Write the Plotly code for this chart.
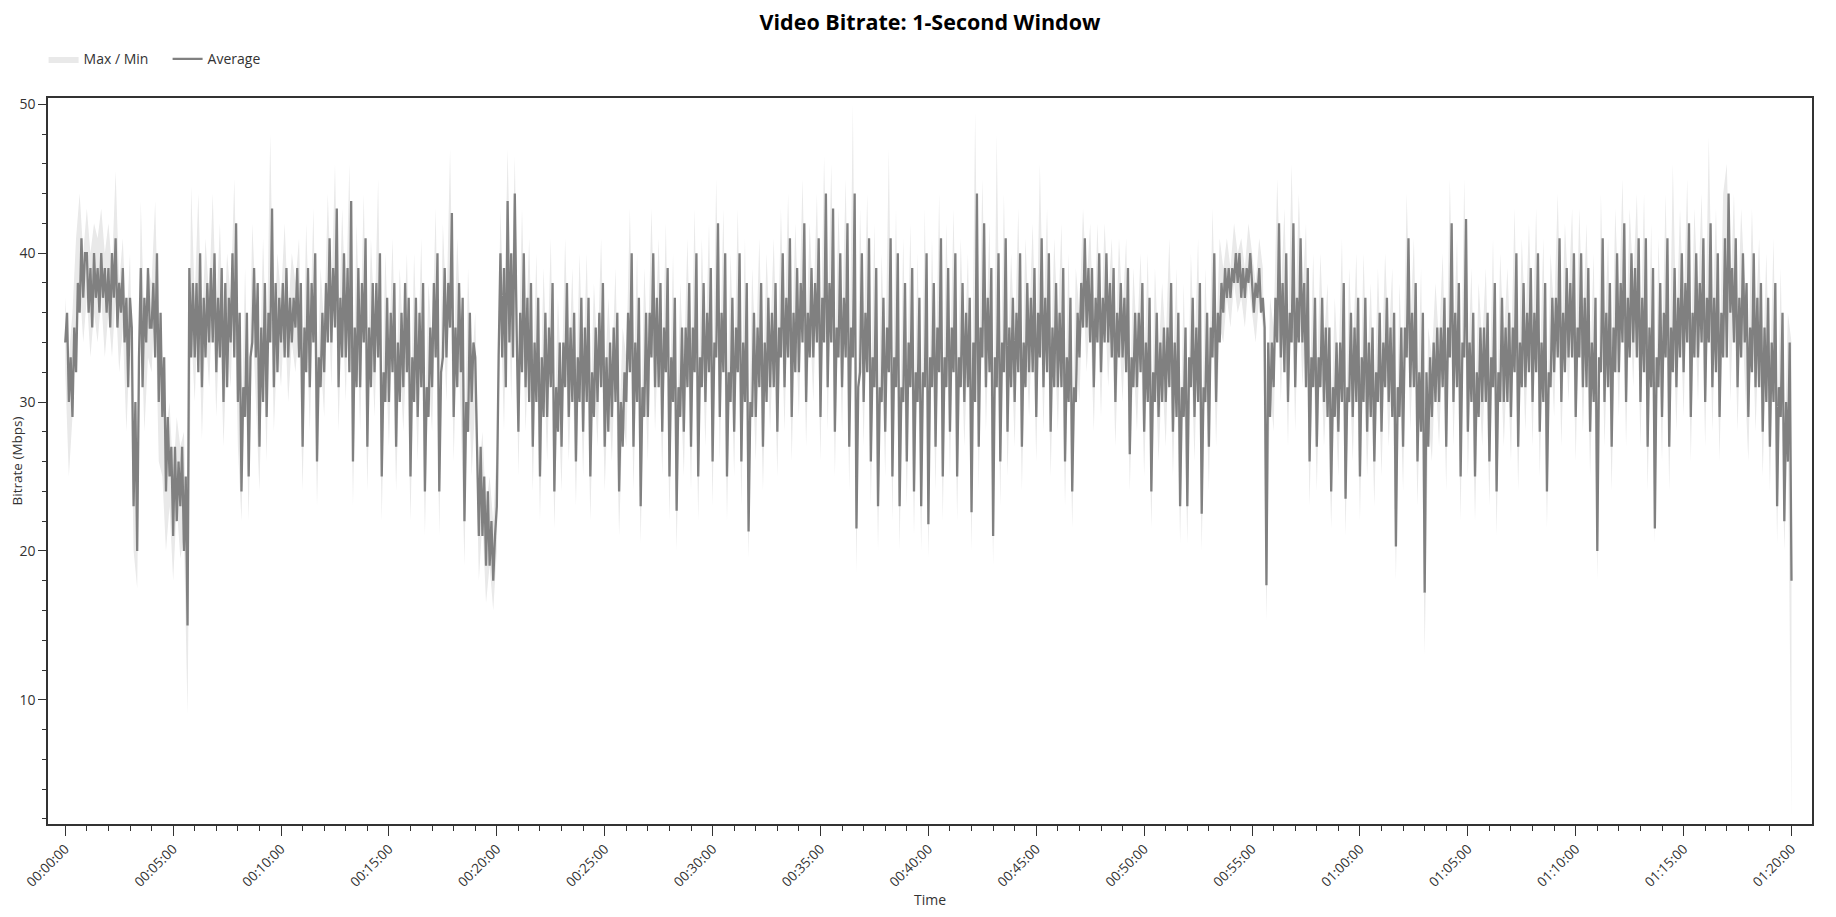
import plotly.graph_objects as go

AVG_STEP = 5    # seconds between average samples
BAND_STEP = 10  # seconds between max/min samples

# 1-second-window average bitrate (Mbps), one row per minute
avg_mbps = [
    34, 36, 30, 33, 29, 35, 32, 38, 36, 41, 37, 40,  # 00:00
    40, 36, 39, 35, 40, 37, 39, 36, 40, 37, 39, 36,
    39, 35, 40, 37, 41, 35, 38, 36, 39, 34, 37, 31,
    37, 35, 23, 30, 20, 33, 39, 31, 37, 34, 39, 35,
    35, 38, 33, 40, 30, 36, 29, 33, 24, 29, 25, 27,
    21, 27, 22, 26, 23, 27, 20, 25, 15, 39, 33, 38,  # 00:05
    33, 38, 32, 40, 31, 37, 33, 38, 34, 39, 34, 40,
    32, 37, 33, 39, 30, 38, 31, 37, 34, 40, 33, 42,
    30, 36, 24, 31, 29, 36, 25, 33, 34, 39, 33, 38,
    27, 35, 30, 38, 29, 36, 34, 43, 31, 38, 32, 37,
    34, 38, 33, 39, 33, 37, 34, 37, 35, 39, 33, 38,  # 00:10
    27, 35, 32, 39, 31, 38, 34, 40, 26, 33, 31, 36,
    32, 38, 34, 41, 34, 39, 35, 43, 31, 37, 33, 40,
    33, 39, 32, 43.5, 26, 35, 31, 39, 31, 38, 34, 41,
    27, 35, 31, 38, 32, 38, 33, 40, 25, 32, 30, 37,
    30, 36, 32, 38, 27, 34, 30, 36, 31, 38, 32, 37,  # 00:15
    25, 33, 30, 37, 29, 36, 31, 38, 24, 31, 29, 35,
    31, 38, 33, 40, 24, 32, 33, 39, 33, 38, 35, 42.7,
    29, 35, 31, 38, 32, 37, 22, 30, 28, 36, 30, 34,
    33, 26, 21, 27, 21, 25, 19, 24, 19, 22, 18, 21,
    23, 33, 40, 33, 39, 31, 43.5, 34, 40, 33, 44, 35,  # 00:20
    28, 36, 32, 40, 31, 37, 30, 38, 27, 34, 30, 37,
    25, 33, 29, 36, 29, 35, 31, 38, 24, 31, 28, 34,
    27, 34, 31, 38, 29, 35, 30, 36, 26, 33, 30, 37,
    28, 35, 30, 37, 25, 32, 29, 35, 30, 36, 31, 38,
    27, 33, 28, 34, 29, 35, 30, 36, 24, 30, 27, 32,  # 00:25
    30, 36, 32, 40, 27, 34, 30, 37, 23, 31, 29, 36,
    29, 36, 33, 40, 31, 37, 31, 38, 28, 35, 32, 39,
    25, 33, 30, 37, 22.7, 31, 29, 35, 28, 35, 31, 38,
    27, 35, 32, 40, 25, 33, 31, 38, 30, 36, 32, 39,
    26, 34, 33, 42, 29, 36, 32, 40, 25, 32, 30, 37,  # 00:30
    28, 35, 32, 40, 26, 34, 30, 38, 21.3, 30, 29, 36,
    29, 35, 31, 38, 27, 34, 30, 37, 31, 36, 31, 38,
    28, 35, 33, 40, 31, 37, 33, 41, 29, 36, 32, 39,
    32, 38, 34, 42, 30, 36, 33, 39, 33, 38, 34, 41,
    29, 37, 34, 44, 31, 38, 34, 43, 28, 35, 33, 40,  # 00:35
    31, 37, 33, 42, 27, 35, 33, 44, 21.5, 31, 32, 40,
    30, 36, 32, 41, 26, 33, 31, 39, 23, 31, 30, 37,
    28, 35, 32, 41, 25, 33, 31, 40, 23, 31, 30, 38,
    26, 34, 31, 39, 24, 32, 30, 37, 23, 32, 31, 40,
    21.8, 33, 31, 38, 27, 35, 32, 41, 25, 33, 31, 39,  # 00:40
    28, 35, 32, 40, 25, 33, 31, 38, 30, 36, 31, 37,
    22.6, 34, 30, 44, 27, 35, 33, 42, 31, 37, 32, 39,
    21, 33, 31, 40, 26, 34, 32, 41, 28, 35, 31, 37,
    30, 36, 32, 40, 27, 34, 31, 38, 32, 37, 32, 39,
    29, 36, 33, 41, 31, 37, 32, 40, 28, 35, 31, 38,  # 00:45
    31, 36, 31, 39, 26, 33, 30, 37, 24, 31, 30, 36,
    33, 38, 35, 41, 35, 39, 34, 39, 31, 37, 34, 40,
    32, 37, 34, 40, 34, 38, 33, 39, 30, 36, 33, 38,
    33, 37, 32, 39, 26.5, 33, 31, 36, 31, 36, 32, 38,
    28, 34, 30, 37, 24, 32, 30, 36, 29, 34, 30, 35,  # 00:50
    30, 35, 31, 38, 28, 34, 29, 36, 23, 31, 29, 35,
    23, 33, 31, 37, 29, 35, 30, 38, 22.5, 31, 30, 36,
    27, 35, 33, 40, 30, 36, 34, 38, 36, 39, 37, 39,
    37, 39, 38, 40, 38, 40, 37, 39, 37, 39, 38, 40,
    38, 36, 38, 37, 39, 36, 37, 35, 17.7, 34, 29, 34,  # 00:55
    31, 37, 34, 42, 33, 38, 32, 40, 30, 36, 34, 42,
    31, 37, 34, 41, 34, 38, 31, 39, 26, 33, 31, 37,
    27, 33, 31, 37, 30, 35, 29, 35, 24, 31, 29, 34,
    28, 34, 30, 38, 23.5, 31, 30, 36, 29, 35, 30, 37,
    25, 33, 30, 37, 28, 34, 29, 35, 26, 32, 30, 36,  # 01:00
    28, 34, 31, 37, 30, 35, 29, 36, 20.3, 31, 29, 35,
    27, 35, 33, 41, 31, 36, 31, 38, 26, 32, 28, 36,
    17.2, 32, 27, 33, 29, 34, 30, 35, 30, 35, 31, 37,
    27, 35, 33, 42, 30, 36, 31, 38, 25, 34, 33, 42.3,
    28, 34, 30, 36, 25, 32, 29, 35, 30, 35, 30, 36,  # 01:05
    26, 33, 31, 38, 24, 32, 30, 37, 30, 35, 30, 36,
    29, 35, 32, 40, 27, 34, 31, 38, 31, 36, 32, 39,
    30, 36, 32, 40, 28, 34, 30, 38, 24, 32, 31, 37,
    32, 37, 33, 41, 30, 36, 32, 39, 33, 38, 33, 40,
    29, 35, 33, 40, 31, 37, 31, 39, 28, 34, 30, 37,  # 01:10
    20, 33, 32, 41, 30, 36, 31, 38, 27, 35, 32, 40,
    32, 38, 34, 42, 30, 37, 33, 40, 34, 39, 33, 41,
    30, 37, 32, 41, 27, 35, 31, 39, 21.5, 33, 31, 38,
    29, 36, 33, 41, 27, 35, 32, 39, 31, 37, 33, 40,
    32, 38, 34, 42, 29, 36, 33, 40, 33, 38, 34, 41,  # 01:15
    30, 37, 34, 42, 31, 37, 32, 40, 29, 36, 33, 41,
    33, 44, 36, 39, 34, 41, 31, 37, 33, 40, 34, 38,
    29, 35, 32, 40, 31, 37, 31, 38, 28, 35, 30, 37,
    27, 34, 30, 38, 23, 31, 29, 36, 22, 30, 26, 34,
    18,                                              # 01:20
]

# 1-second-window max / min (Mbps), one row per minute
max_mbps = [
    37, 33, 36, 41, 44, 40,  # 00:00
    43, 40, 42, 41, 43, 40,
    42, 39, 45.5, 38, 41, 35,
    40, 27, 24, 43.5, 35, 39,
    38, 43.5, 34, 33, 28, 30,
    25, 29, 27, 28, 19, 44.5,  # 00:05
    37, 44, 35, 41, 37, 44,
    36, 42, 34, 40, 37, 45,
    34, 28, 39, 29, 42, 36,
    31, 41, 33, 48, 34, 40,
    37, 42, 36, 40, 38, 41,  # 00:10
    31, 42, 34, 43, 30, 39,
    35, 44, 37, 46, 34, 43,
    36, 46, 30, 42, 34, 44,
    31, 41, 35, 45, 29, 40,
    33, 41, 31, 39, 34, 40,  # 00:15
    29, 40, 32, 41, 28, 38,
    34, 43, 28, 42, 36, 47,
    33, 41, 35, 26, 39, 32,
    36, 25, 28, 23, 25, 22,
    27, 43, 35, 47, 36, 46.5,  # 00:20
    32, 43, 34, 41, 31, 40,
    29, 39, 32, 41, 28, 37,
    31, 41, 32, 39, 30, 40,
    32, 40, 29, 38, 33, 41,
    31, 37, 32, 39, 28, 35,  # 00:25
    33, 43, 31, 40, 27, 39,
    33, 43, 34, 41, 32, 42,
    29, 40, 27, 38, 32, 41,
    31, 43, 29, 41, 33, 42,
    30, 45, 32, 43, 29, 40,  # 00:30
    32, 43, 30, 41, 25, 39,
    33, 41, 31, 40, 34, 41,
    32, 43, 34, 44, 33, 42,
    35, 45, 34, 42, 36, 44,
    33, 46.5, 35, 46, 32, 43,  # 00:35
    35, 45, 31, 50, 25, 43,
    34, 44, 30, 42, 27, 40,
    32, 47, 29, 43, 27, 41,
    30, 42, 28, 40, 27, 43,
    26, 41, 31, 44, 29, 42,  # 00:40
    32, 43, 29, 41, 33, 40,
    27, 49.5, 31, 45, 34, 42,
    25, 48, 30, 44, 32, 40,
    34, 43, 31, 41, 35, 42,
    33, 46, 35, 43, 32, 41,  # 00:45
    35, 42, 30, 40, 28, 39,
    36, 43, 38, 42, 34, 42,
    35, 42, 37, 41, 33, 41,
    36, 41, 30, 39, 34, 40,
    32, 40, 28, 39, 33, 38,  # 00:50
    34, 41, 32, 39, 27, 38,
    27, 40, 33, 41, 27, 39,
    31, 43, 34, 41, 39, 41,
    39, 42, 40, 41, 39, 42,
    40, 38, 41, 39, 24, 37,  # 00:55
    35, 45, 37, 43, 34, 46,
    35, 44, 37, 42, 30, 40,
    31, 40, 34, 38, 28, 37,
    32, 41, 27, 39, 33, 40,
    29, 40, 32, 38, 30, 39,  # 01:00
    32, 40, 34, 39, 25, 38,
    31, 44, 35, 41, 30, 39,
    22, 35, 33, 38, 34, 40,
    31, 45, 34, 41, 29, 45,
    32, 39, 29, 38, 34, 39,  # 01:05
    30, 41, 28, 40, 34, 39,
    33, 43, 31, 41, 35, 42,
    34, 43, 32, 41, 28, 40,
    36, 44, 34, 42, 37, 43,
    33, 43, 35, 42, 32, 40,  # 01:10
    24, 44, 34, 41, 31, 43,
    36, 45, 34, 43, 38, 44,
    34, 44, 31, 42, 26, 41,
    33, 44, 31, 46, 35, 43,
    36, 45, 33, 43, 37, 44,  # 01:15
    34, 47.8, 35, 43, 33, 44,
    46, 37, 44, 35, 43, 38,
    33, 43, 35, 41, 32, 40,
    31, 41, 27, 39, 26, 36,
    34,                      # 01:20
]

min_mbps = [
    32, 25, 29, 35, 38, 34,  # 00:00
    37, 33, 36, 34, 37, 33,
    36, 33, 37, 32, 35, 28,
    34, 20, 17.5, 36, 28, 33,
    32, 37, 26, 25, 20, 23,
    18, 23, 19.5, 21, 9, 35,  # 00:05
    30, 37, 27.5, 35, 31, 37,
    29, 36, 27, 34, 31, 39,
    27, 22, 33, 22, 36, 30,
    24, 35, 26, 40, 28, 34,
    31, 36, 30, 34, 32, 35,  # 00:10
    24, 36, 28, 37, 23, 33,
    29, 38, 31, 40, 28, 37,
    30, 40, 23, 36, 28, 38,
    24, 35, 29, 37, 22, 34,
    27, 35, 24, 33, 28, 34,  # 00:15
    22, 34, 26, 35, 21, 32,
    28, 37, 21, 36, 30, 39,
    26, 35, 29, 19, 33, 25,
    30, 18, 22, 16.5, 19, 16,
    20, 37, 28, 40, 30, 41,  # 00:20
    25, 37, 28, 35, 24, 34,
    22, 33, 26, 35, 21.5, 31,
    24, 35, 26, 33, 23, 34,
    25, 34, 22, 32, 27, 35,
    24, 31, 26, 33, 21, 29,  # 00:25
    27, 37, 24, 34, 20.5, 33,
    26, 37, 28, 35, 25, 36,
    22, 34, 20, 32, 25, 35,
    24, 37, 22, 35, 27, 36,
    23, 39, 26, 37, 22, 34,  # 00:30
    25, 37, 23, 35, 19.5, 33,
    26, 35, 24, 34, 28, 35,
    25, 37, 28, 38, 26, 36,
    29, 39, 27, 36, 30, 38,
    26, 41, 28, 40, 25, 37,  # 00:35
    28, 39, 24, 41, 18.5, 37,
    27, 38, 23, 36, 20, 34,
    25, 38, 22, 37, 20, 35,
    23, 36, 21, 34, 20, 37,
    19.5, 35, 24, 38, 22, 36,  # 00:40
    25, 37, 22, 35, 27, 34,
    20, 41, 24, 39, 28, 36,
    19, 37, 23, 38, 25, 34,
    27, 37, 24, 35, 29, 36,
    26, 38, 28, 37, 25, 35,  # 00:45
    28, 36, 23, 34, 21.5, 33,
    30, 38, 32, 36, 28, 37,
    29, 37, 31, 36, 27, 35,
    30, 36, 24, 33, 28, 35,
    25, 34, 21.5, 33, 26, 32,  # 00:50
    27, 35, 25, 33, 20.5, 32,
    20.5, 34, 26, 35, 20, 33,
    24, 37, 27, 35, 34, 37,
    35, 38, 36, 37, 35, 38,
    36, 34, 37, 35, 15.3, 31,  # 00:55
    28, 39, 30, 37, 27, 39,
    28, 38, 31, 36, 23, 34,
    24, 34, 27, 32, 21.5, 31,
    25, 35, 21, 33, 26, 34,
    22, 34, 25, 32, 23, 33,  # 01:00
    25, 34, 27, 33, 18, 32,
    24, 38, 28, 35, 23, 33,
    13, 29, 26, 32, 27, 34,
    24, 39, 27, 35, 22, 39,
    25, 33, 22, 32, 27, 33,  # 01:05
    23, 35, 21, 34, 27, 33,
    26, 37, 24, 35, 28, 36,
    27, 37, 25, 35, 21.5, 34,
    29, 38, 27, 36, 30, 37,
    26, 37, 28, 36, 25, 34,  # 01:10
    18, 38, 27, 35, 24, 37,
    29, 39, 27, 37, 31, 38,
    27, 38, 24, 36, 20.5, 35,
    26, 38, 24, 36, 28, 37,
    29, 39, 26, 37, 30, 38,  # 01:15
    27, 39, 28, 37, 26, 38,
    41, 30, 38, 28, 37, 31,
    26, 37, 28, 35, 25, 34,
    24, 35, 20.5, 33, 20, 28,
    2,                       # 01:20
]

tick_seconds = [0, 300, 600, 900, 1200, 1500, 1800, 2100, 2400,
                2700, 3000, 3300, 3600, 3900, 4200, 4500, 4800]
tick_labels = ["00:00:00", "00:05:00", "00:10:00", "00:15:00", "00:20:00",
               "00:25:00", "00:30:00", "00:35:00", "00:40:00", "00:45:00",
               "00:50:00", "00:55:00", "01:00:00", "01:05:00", "01:10:00",
               "01:15:00", "01:20:00"]

avg_seconds = [i * AVG_STEP for i in range(len(avg_mbps))]
band_seconds = [i * BAND_STEP for i in range(len(max_mbps))]

BAND = "#e9e9e9"
AVG = "#808080"
AXIS = "#333333"

fig = go.Figure()

# ── Max / Min band ───────────────────────
fig.add_trace(go.Scatter(
    x=band_seconds, y=max_mbps, mode="lines",
    line=dict(width=0, color=BAND), showlegend=False, hoverinfo="skip",
))
fig.add_trace(go.Scatter(
    x=band_seconds, y=min_mbps, mode="lines", name="Max / Min",
    line=dict(width=0, color=BAND), fill="tonexty", fillcolor=BAND,
    legendrank=1,
))

# ── Average line ─────────────────────────
fig.add_trace(go.Scatter(
    x=avg_seconds, y=avg_mbps, mode="lines", name="Average",
    line=dict(width=2.3, color=AVG), legendrank=2,
))

# the page body adds an 8px margin, so margins here are relative to that
fig.update_layout(
    paper_bgcolor="white", plot_bgcolor="white",
    font=dict(family="Open Sans, sans-serif", size=13, color=AXIS),
    title=dict(
        text="<b>Video Bitrate: 1-Second Window</b>",
        x=0.5, xref="paper", xanchor="center",
        y=0.984, yanchor="middle",
        font=dict(size=21.5, color="#000"),
    ),
    margin=dict(l=40, r=16, t=90, b=85),
    legend=dict(
        orientation="h", x=-0.0025, xanchor="left", y=1.0533, yanchor="middle",
        itemwidth=30, entrywidth=79, font=dict(size=14, color=AXIS),
        traceorder="normal",
    ),
    showlegend=True,
)
fig.update_xaxes(
    range=[-48, 4857], showgrid=False, zeroline=False, automargin=False,
    showline=True, linecolor=AXIS, linewidth=1.5, mirror=True,
    tickmode="array", tickvals=tick_seconds, ticktext=tick_labels,
    tickangle=-45, ticks="outside", ticklen=10, tickcolor=AXIS,
    minor=dict(dtick=60, tick0=0, ticks="outside", ticklen=5, tickcolor=AXIS),
    tickfont=dict(size=13.5),
    title=dict(text="Time", font=dict(size=14), standoff=8),
)
fig.update_yaxes(
    range=[1.66, 50.42], showgrid=False, zeroline=False, automargin=False,
    showline=True, linecolor=AXIS, linewidth=1.5, mirror=True,
    dtick=10, tick0=0, ticks="outside", ticklen=8, tickcolor=AXIS,
    minor=dict(dtick=2, tick0=0, ticks="outside", ticklen=4, tickcolor=AXIS),
    tickfont=dict(size=14),
    title=dict(text="Bitrate (Mbps)", font=dict(size=13.5), standoff=4),
)

fig.write_html("out.html")
